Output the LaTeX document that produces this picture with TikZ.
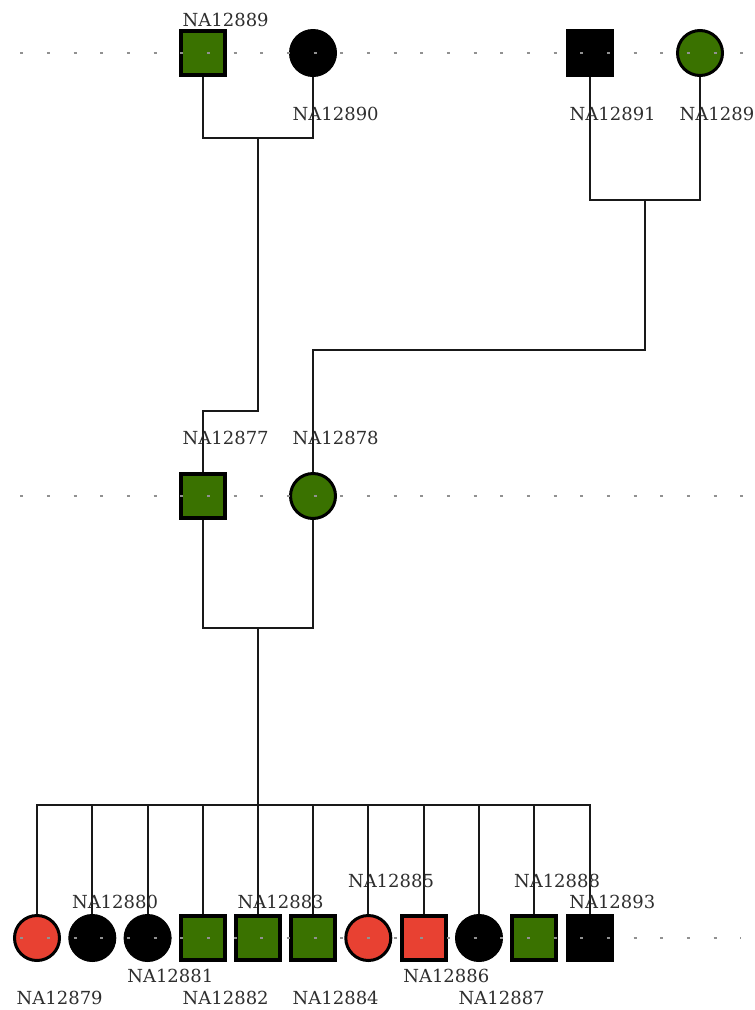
\documentclass[tikz,border=0pt]{standalone}
\usepackage{fontspec}
\setmainfont{DejaVu Serif}
\definecolor{affgreen}{RGB}{58,114,0}
\definecolor{affred}{RGB}{232,65,50}
\definecolor{genline}{RGB}{145,145,145}
\tikzset{
  male/.style={rectangle, draw=black, line width=4pt, minimum size=44pt, inner sep=0pt},
  female/.style={circle, draw=black, line width=3pt, minimum size=45pt, inner sep=0pt},
  unknownm/.style={rectangle, draw=black, fill=black, line width=1pt, minimum size=47pt, inner sep=0pt},
  unknownf/.style={circle, draw=black, fill=black, line width=1pt, minimum size=47pt, inner sep=0pt},
  lbl/.style={anchor=west, inner sep=0pt, text=black!82, font=\fontsize{18}{18}\selectfont},
  rel/.style={draw=black!90, line width=1.9pt},
  generation/.style={draw=genline, line width=1.5pt, dash pattern=on 3.2pt off 23.47pt},
}
\begin{document}
\begin{tikzpicture}[x=1pt, y=-1pt]
\useasboundingbox (0,0) rectangle (755,1010);

% founders
\node[male, fill=affgreen] (n89) at (203,53) {};
\node[unknownf] (n90) at (313,53) {};
\node[unknownm] (n91) at (590,53) {};
\node[female, fill=affgreen] (n92) at (700,53) {};

% parents
\node[male, fill=affgreen] (n77) at (203,496) {};
\node[female, fill=affgreen] (n78) at (313,496) {};

% children
\node[female, fill=affred] (n79) at (37,938) {};
\node[unknownf] (n80) at (92.3,938) {};
\node[unknownf] (n81) at (147.6,938) {};
\node[male, fill=affgreen] (n82) at (203,938) {};
\node[male, fill=affgreen] (n83) at (258,938) {};
\node[male, fill=affgreen] (n84) at (313,938) {};
\node[female, fill=affred] (n85) at (368.3,938) {};
\node[male, fill=affred] (n86) at (423.6,938) {};
\node[unknownf] (n87) at (479,938) {};
\node[male, fill=affgreen] (n88) at (534.3,938) {};
\node[unknownm] (n93) at (589.6,938) {};

% marriage and descent lines
\coordinate (u1) at (258,138);
\coordinate (k1) at (258,411);
\coordinate (u2) at (645,200);
\coordinate (k2) at (645,350);
\coordinate (u3) at (258,628);
\coordinate (s) at (258,805);

\draw[rel] (n89.south) |- (u1) -| (n90.south);
\draw[rel] (u1) -- (k1) -| (n77.north);
\draw[rel] (n91.south) |- (u2) -| (n92.south);
\draw[rel] (u2) -- (k2) -| (n78.north);
\draw[rel] (n77.south) |- (u3) -| (n78.south);
\draw[rel] (u3) -- (s);
\foreach \c in {n79,n80,n81,n82,n83,n84,n85,n86,n87,n88,n93}
  \draw[rel] (s) -| (\c.north);

% generation guides
\draw[generation] (20.2,53) -- (755,53);
\draw[generation] (20.2,496) -- (755,496);
\draw[generation] (20.2,938) -- (741,938);

% labels
\node[lbl] at ([xshift=-20.5pt]n89.center |- 0,19.5) {NA12889};
\node[lbl] at ([xshift=-20.5pt]n90.center |- 0,114) {NA12890};
\node[lbl] at ([xshift=-20.5pt]n91.center |- 0,114) {NA12891};
\node[lbl] at ([xshift=-20.5pt]n92.center |- 0,114) {NA12892};

\node[lbl] at ([xshift=-20.5pt]n77.center |- 0,438) {NA12877};
\node[lbl] at ([xshift=-20.5pt]n78.center |- 0,438) {NA12878};

\node[lbl] at ([xshift=-20.5pt]n79.center |- 0,998) {NA12879};
\node[lbl] at ([xshift=-20.5pt]n80.center |- 0,902) {NA12880};
\node[lbl] at ([xshift=-20.5pt]n81.center |- 0,975.5) {NA12881};
\node[lbl] at ([xshift=-20.5pt]n82.center |- 0,998) {NA12882};
\node[lbl] at ([xshift=-20.5pt]n83.center |- 0,902) {NA12883};
\node[lbl] at ([xshift=-20.5pt]n84.center |- 0,998) {NA12884};
\node[lbl] at ([xshift=-20.5pt]n85.center |- 0,880.5) {NA12885};
\node[lbl] at ([xshift=-20.5pt]n86.center |- 0,975.5) {NA12886};
\node[lbl] at ([xshift=-20.5pt]n87.center |- 0,998) {NA12887};
\node[lbl] at ([xshift=-20.5pt]n88.center |- 0,880.5) {NA12888};
\node[lbl] at ([xshift=-20.5pt]n93.center |- 0,902) {NA12893};
\end{tikzpicture}
\end{document}
